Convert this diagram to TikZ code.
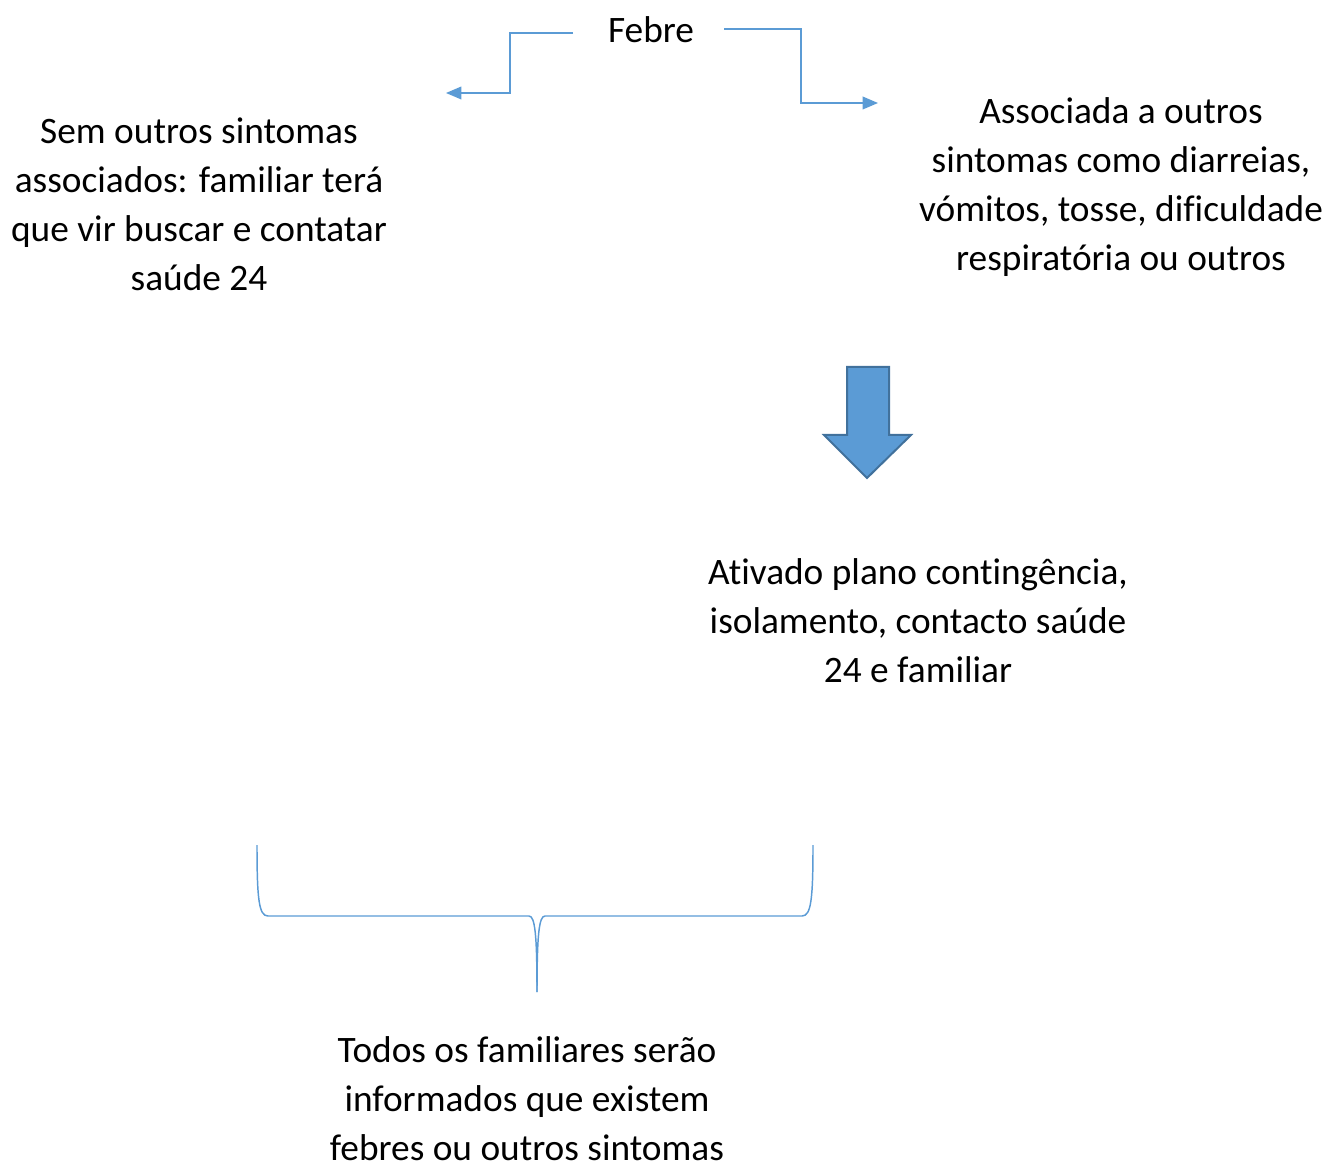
\documentclass[tikz,border=0pt]{standalone}
\usepackage{fontspec}
\setmainfont{Carlito}[Ligatures=NoCommon]
\usepackage{xcolor}
\usepackage{tikz}
\usetikzlibrary{arrows.meta,positioning}
\definecolor{lblue}{HTML}{5B9BD5}
\definecolor{dblue}{HTML}{41719C}

\begin{document}
\begin{tikzpicture}[x=0.75pt, y=-0.75pt, thick]
\useasboundingbox (0,0) rectangle (1328,1162);
\tikzstyle{every node} = [align=center, inner sep=0pt, font=\fontsize{28}{36.8}\selectfont]
\tikzstyle{link} = [draw=lblue, line width=1.1pt, -{Triangle[length=11.5pt,width=9.5pt]}]
\node (febre) at (651,30) {Febre};
\node (sem) at (199,204.5) {Sem outros sintomas\\associados: familiar terá\\que vir buscar e contatar\\saúde 24};
\node (assoc) at (1121,187) {Associada a outros\\sintomas como diarreias,\\vómitos, tosse, dificuldade\\respiratória ou outros};
\node (plano) at (918,620.5) {Ativado plano contingência,\\isolamento, contacto saúde\\24 e familiar};
\node (todos) at (527,1098.5) {Todos os familiares serão\\informados que existem\\febres ou outros sintomas};
\coordinate (l0) at (573,33);
\coordinate (l1) at (446,93);
\coordinate (r0) at (724,29);
\coordinate (r1) at (878,103);
\draw[link] (l0) -- (510,33) |- (l1);
\draw[link] (r0) -- (801,29) |- (r1);
% big arrow
\draw[dblue, line width=1.5pt, fill=lblue] (847,367) -- (889,367) -- (889,435) -- (911,435) -- (867,478) -- (824,435) -- (847,435) -- cycle;
% brace
\draw[lblue, line width=1.1pt] (257,845) .. controls (257,900) and (259,916) .. (268,916) -- (529,916) .. controls (535,916) and (537,935) .. (537,992);
\draw[lblue, line width=1.1pt] (813,845) .. controls (813,900) and (811,916) .. (802,916) -- (545,916) .. controls (539,916) and (537,935) .. (537,992);
\end{tikzpicture}
\end{document}
